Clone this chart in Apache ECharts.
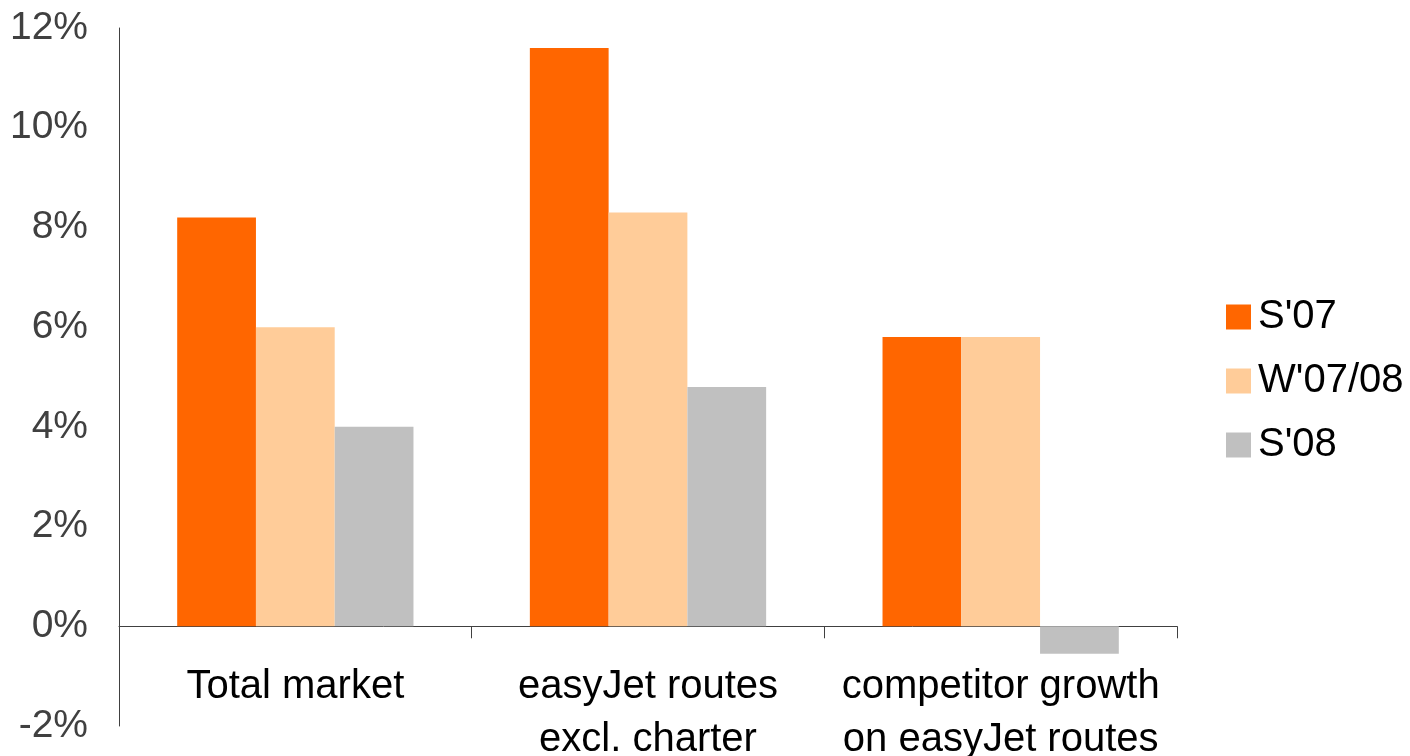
<!DOCTYPE html>
<html>
<head>
<meta charset="utf-8">
<script src="https://cdn.jsdelivr.net/npm/echarts@6/dist/echarts.min.js"></script>
<style>
  html, body { margin: 0; padding: 0; background: #fff; }
  #charts { width: 1410px; height: 756px; }
</style>
</head>
<body>
<div id="charts"></div>
<script>
// categories and series (percent)
var categories = ['Total market', 'easyJet routes\nexcl. charter', 'competitor growth\non easyJet routes'];
var s07 = [8.2, 11.6, 5.8];
var w0708 = [6.0, 8.3, 5.8];
var s08 = [4.0, 4.8, -0.55];
var seriesNames = ["S'07", "W'07/08", "S'08"];
var colors = ['#ff6600', '#ffcc99', '#c0c0c0'];

var font = 'Liberation Sans, Arial, sans-serif';
var myChart = echarts.init(document.getElementById('charts'));

function makeSeries(name, data, color) {
    return {
        name: name,
        type: 'bar',
        data: data,
        barGap: '0%',
        barCategoryGap: '33%',
        itemStyle: { color: color },
        emphasis: { disabled: true }
    };
}

var option = {
    animation: false,
    grid: { left: 119, right: 233, top: 28, bottom: 30, outerBoundsMode: 'none' },
    legend: {
        orient: 'vertical',
        left: 1226,
        top: 297,
        padding: 0,
        itemWidth: 25,
        itemHeight: 25,
        itemGap: 24,
        icon: 'rect',
        data: seriesNames,
        textStyle: { fontFamily: font, fontSize: 40, lineHeight: 40, color: '#000', padding: [0, 0, 0, 2] }
    },
    xAxis: {
        type: 'category',
        data: categories,
        axisLine: { onZero: true, lineStyle: { color: '#404040', width: 1 } },
        axisTick: { show: true, length: 12, lineStyle: { color: '#404040' } },
        axisLabel: {
            // labels are laid out from the grid bottom, pull them up under the zero line
            fontFamily: font, fontSize: 40, lineHeight: 53, color: '#000',
            margin: -66, interval: 0
        }
    },
    yAxis: {
        type: 'value',
        min: -2,
        max: 12,
        interval: 2,
        splitLine: { show: false },
        axisLine: { show: true, lineStyle: { color: '#404040', width: 1 } },
        axisTick: { show: false },
        axisLabel: {
            fontFamily: font, fontSize: 39, color: '#404040', margin: 31,
            formatter: function (v) { return v + '%'; }
        }
    },
    series: [
        makeSeries(seriesNames[0], s07, colors[0]),
        makeSeries(seriesNames[1], w0708, colors[1]),
        makeSeries(seriesNames[2], s08, colors[2])
    ]
};
myChart.setOption(option);
</script>
</body>
</html>
